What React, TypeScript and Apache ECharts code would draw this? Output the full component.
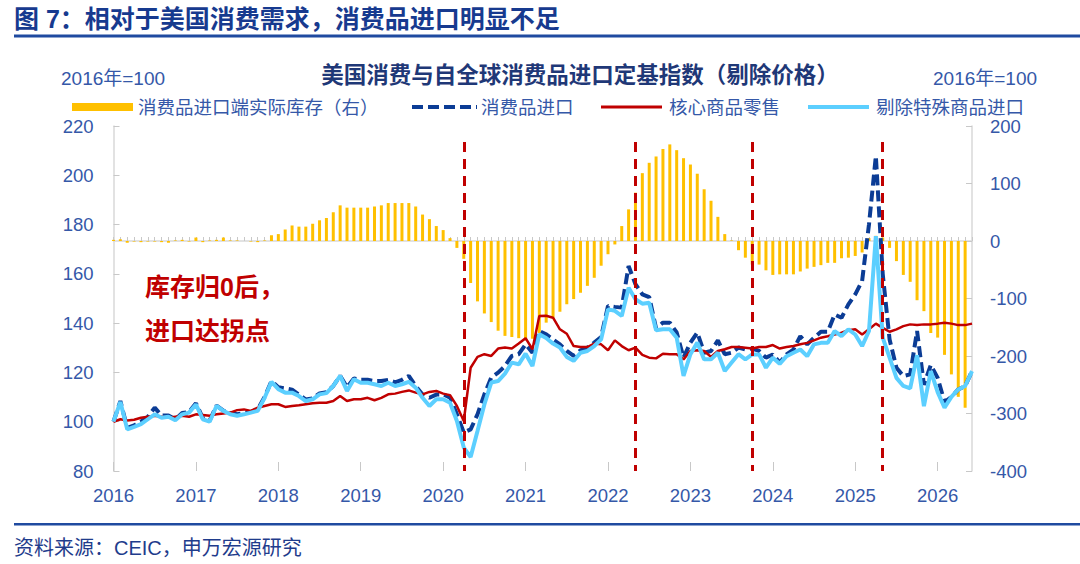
import React, { useEffect, useRef } from "react";
import * as echarts from "echarts";

// Monthly categories Jan 2016 .. Jun 2026
const months: string[] = [];
for (let y = 2016; y <= 2026; y++) {
  for (let m = 1; m <= 12; m++) {
    if (months.length < 126) months.push(`${y}-${m < 10 ? "0" + m : m}`);
  }
}

// 消费品进口端实际库存（右）
const inventoryBars: (number | null)[] = [
  2, 3, -3, -1, -2, -1, -1, -2, -3, 1,
  2, -1, 6, -2, 1, 2, 6, 1, 1, 0,
  -1, -2, 1, 10, 12, 20, 27, 25, 25, 30,
  36, 40, 50, 62, 58, 58, 58, 58, 60, 62,
  66, 66, 66, 66, 60, 46, 38, 26, 19, 5,
  -12, -31, -73, -105, -126, -141, -156, -165, -167, -169,
  -170, -170, -160, -142, -133, -123, -110, -101, -90, -78,
  -64, -43, -23, -6, 26, 55, 84, 118, 136, 147,
  160, 168, 158, 144, 133, 117, 90, 70, 42, 12,
  1, -16, -29, -41, -41, -51, -59, -58, -58, -58,
  -53, -48, -45, -42, -38, -38, -30, -29, -26, -20,
  5, 9, 6, -12, -35, -59, -71, -103, -122, -160,
  -168, -198, -232, -271, -290, null,
];

// 消费品进口
const importIdx: number[] = [
  100, 108.4, 97.5, 98.5, 100, 102, 105.7, 102.5, 102.5, 101,
  103.5, 104, 107.5, 101.5, 100.5, 106.5, 104.5, 103.5, 103, 103.5,
  104, 105, 110, 116.5, 114, 113.5, 113, 111, 109, 109.5,
  111.5, 112, 114.5, 118.6, 114, 117.5, 117, 117, 116.5, 116.5,
  117, 116, 117, 118.6, 114.5, 111, 109.7, 111, 111.1, 109.8,
  103, 95.6, 96.9, 103, 111.1, 117.9, 119.9, 122.6, 126.7, 127.4,
  131.4, 128, 136.8, 135.5, 133.4, 131.4, 128.7, 126.7, 129, 130.1,
  132.1, 134.4, 147, 146.6, 146.3, 163.2, 155.8, 151.7, 150.6, 137.9,
  140.2, 140.2, 136.2, 126, 132.1, 136.2, 128, 128.7, 133, 127.4,
  128, 130.1, 129.3, 129.7, 128.7, 126, 127.3, 124, 127.3, 129.3,
  134.7, 131.4, 134.1, 136.5, 136.5, 143.5, 142.2, 147.6, 151.7, 157.1,
  180, 207.8, 160, 133.4, 121.9, 118.5, 119.2, 136.8, 115, 123,
  117.8, 108, 110, 113.1, 114.5, 120.5,
];

// 核心商品零售
const coreRetail: number[] = [
  100, 101, 100.5, 100.8, 101.6, 102, 102.4, 102, 101.6, 102,
  102.4, 102, 103, 102.7, 102.4, 103, 103.3, 103.7, 104.7, 105,
  104.4, 105.7, 106.4, 107.1, 107.1, 106, 106.4, 106.7, 107.1, 107.5,
  107.7, 107.7, 108.4, 110.4, 108.4, 109.1, 109.1, 109.7, 108.7, 109.7,
  111.1, 111.4, 112.1, 112.7, 111.8, 111.1, 112.1, 112.5, 111.4, 110.8,
  106.4, 100.3, 121.9, 126.3, 127.4, 126.7, 129.7, 130.1, 129.7, 131.7,
  133.9, 129.4, 142.9, 143, 142.2, 137.5, 135.7, 130.7, 130.3, 130.3,
  131.7, 131.4, 129, 133, 130.7, 129, 130.1, 127.1, 126, 125.7,
  127.6, 127.4, 127.4, 125.3, 128.7, 129, 128.7, 126.3, 128.7, 129.4,
  130.3, 130.3, 130, 129.7, 130.3, 130.3, 131.1, 129.7, 130.3, 130.7,
  131.4, 132, 133, 134.1, 134.7, 135.4, 136.1, 137.1, 137.5, 135.4,
  137.5, 139.8, 138.1, 136.5, 137.5, 138.8, 139.5, 139.2, 139.5, 139.5,
  139.8, 140.2, 139.8, 139.2, 139.2, 139.8,
];

// 剔除特殊商品进口
const exSpecialImport: number[] = [
  100, 108, 96.9, 97.9, 99, 101, 103, 101.6, 102, 100.6,
  103, 103.7, 107, 101, 100, 106.4, 104.4, 103, 102.4, 103,
  103.7, 104.4, 109.7, 116.2, 113.2, 111.8, 111.8, 110.4, 108.4, 109.1,
  111.1, 111.6, 114.5, 118.6, 112.5, 117.2, 115.8, 115.8, 115.2, 114.5,
  115.8, 114.5, 115.2, 116.2, 113.8, 109.7, 106.4, 109.1, 109.1, 107.7,
  100.3, 89.5, 85.7, 96.2, 107, 115.9, 116.5, 119.5, 124, 123.3,
  127.6, 122.6, 135.5, 134, 131.7, 130.1, 126.3, 124.7, 128, 128.7,
  130.7, 133.4, 145.6, 145, 142.9, 154.4, 149.7, 147.9, 148.3, 137.1,
  137.5, 137.5, 134.1, 118.6, 127.4, 132.1, 125.3, 125.3, 128, 120.6,
  124, 127.4, 125.3, 127.3, 127.3, 121.9, 126, 123.5, 126.6, 128,
  129.3, 126.6, 131.4, 132, 132, 136.8, 134.7, 137.5, 135.4, 130.7,
  136.8, 175.3, 134.1, 126, 117.8, 114.5, 113.5, 127, 106.3, 120.5,
  112, 105.7, 110.1, 113.1, 114.5, 120.5,
];

// Month indexes of the vertical red dashed markers
const markerMonthIdx: number[] = [51, 76, 93, 112];

const leftTicks = { min: 80, max: 220, interval: 20 };
const rightTicks = { min: -400, max: 200, interval: 100 };

const FONT = "'Liberation Sans', 'Noto Sans CJK SC', sans-serif";
const LABEL_COLOR = "#3558A8";
const TITLE_BLUE = "#173A8F";
const LINE_BLUE = "#1F4AA0";

function txt(
  x: number,
  y: number,
  text: string,
  fontSize: number,
  fill: string,
  opts: { bold?: boolean; align?: string } = {}
) {
  const align = opts.align || "left";
  return {
    type: "text",
    x,
    y,
    silent: true,
    style: {
      text,
      fill,
      fontSize,
      fontWeight: opts.bold ? "bold" : "normal",
      fontFamily: FONT,
      align,
      verticalAlign: "middle",
      textAlign: align,
      textVerticalAlign: "middle",
    },
  };
}

export default function App() {
  const ref = useRef<HTMLDivElement>(null);

  useEffect(() => {
    if (!ref.current) return;
    const chart = echarts.init(ref.current, null, { renderer: "svg" });

    const legendY = 107;
    const legendFont = 18.5;
    const option: any = {
      animation: false,
      backgroundColor: "#ffffff",
      grid: { left: 113.5, right: 108, top: 126, height: 345, containLabel: false },
      xAxis: [
        {
          type: "category",
          data: months,
          boundaryGap: false,
          axisLine: { show: true, lineStyle: { color: "#D9D9D9", width: 1.5 } },
          axisTick: {
            show: true,
            inside: true,
            interval: 0,
            length: 4,
            lineStyle: { color: "#C8C8C8", width: 1 },
          },
          axisLabel: {
            interval: (i: number) => i % 12 === 0,
            formatter: (v: string) => v.slice(0, 4),
            color: LABEL_COLOR,
            fontSize: 18.5,
            fontFamily: FONT,
            margin: 15,
          },
          splitLine: { show: false },
        },
        {
          type: "category",
          data: months,
          boundaryGap: false,
          position: "bottom",
          axisLine: { show: false },
          axisTick: {
            show: true,
            inside: true,
            interval: (i: number) => i % 12 === 0,
            length: 9,
            lineStyle: { color: "#C8C8C8", width: 1 },
          },
          axisLabel: { show: false },
          splitLine: { show: false },
        },
      ],
      yAxis: [
        {
          type: "value",
          position: "left",
          min: leftTicks.min,
          max: leftTicks.max,
          interval: leftTicks.interval,
          axisLine: { show: true, lineStyle: { color: "#D9D9D9", width: 1.5 } },
          axisTick: { show: true, inside: true, length: 6, lineStyle: { color: "#C8C8C8" } },
          axisLabel: { color: LABEL_COLOR, fontSize: 18.5, fontFamily: FONT, margin: 20 },
          splitLine: { show: false },
        },
        {
          type: "value",
          position: "right",
          min: rightTicks.min,
          max: rightTicks.max,
          interval: rightTicks.interval,
          axisLine: { show: true, lineStyle: { color: "#D9D9D9", width: 1.5 } },
          axisTick: { show: true, inside: true, length: 6, lineStyle: { color: "#C8C8C8" } },
          axisLabel: { color: LABEL_COLOR, fontSize: 18.5, fontFamily: FONT, margin: 18 },
          splitLine: { show: false },
        },
      ],
      series: [
        {
          type: "bar",
          name: "消费品进口端实际库存（右）",
          data: inventoryBars,
          yAxisIndex: 1,
          barWidth: 3,
          itemStyle: { color: "#FFC000" },
          markLine: {
            silent: true,
            symbol: ["none", "none"],
            label: { show: false },
            lineStyle: { color: "#C00000", width: 3, type: [10, 7] },
            data: markerMonthIdx.map((m) => [
              { coord: [months[m], 172] },
              { coord: [months[m], -400] },
            ]),
          },
        },
        {
          type: "line",
          name: "消费品进口",
          data: importIdx,
          yAxisIndex: 0,
          symbol: "none",
          lineStyle: { color: "#0B3C95", width: 4, type: [11, 5] },
        },
        {
          type: "line",
          name: "核心商品零售",
          data: coreRetail,
          yAxisIndex: 0,
          symbol: "none",
          lineStyle: { color: "#C00000", width: 2.5 },
        },
        {
          type: "line",
          name: "剔除特殊商品进口",
          data: exSpecialImport,
          yAxisIndex: 0,
          symbol: "none",
          lineStyle: { color: "#5CCFFF", width: 4 },
        },
      ],
      graphic: [
        txt(14, 19, "图 7：相对于美国消费需求，消费品进口明显不足", 25, TITLE_BLUE, { bold: true }),
        { type: "rect", silent: true, shape: { x: 14, y: 34.5, width: 1066, height: 3 }, style: { fill: LINE_BLUE } },
        txt(61, 78, "2016年=100", 19, LABEL_COLOR),
        txt(933, 78, "2016年=100", 19, LABEL_COLOR),
        txt(580, 75, "美国消费与自全球消费品进口定基指数（剔除价格）", 22.5, "#1F3877", { bold: true, align: "center" }),
        // legend
        { type: "rect", silent: true, shape: { x: 72, y: legendY - 4, width: 61, height: 8 }, style: { fill: "#FFC000" } },
        txt(138, legendY, "消费品进口端实际库存（右）", legendFont, LABEL_COLOR),
        {
          type: "line",
          silent: true,
          shape: { x1: 412, y1: legendY, x2: 477, y2: legendY },
          style: { stroke: "#0B3C95", lineWidth: 4, lineDash: [11, 5] },
        },
        txt(481, legendY, "消费品进口", legendFont, LABEL_COLOR),
        {
          type: "line",
          silent: true,
          shape: { x1: 601, y1: legendY, x2: 662, y2: legendY },
          style: { stroke: "#C00000", lineWidth: 3 },
        },
        txt(669, legendY, "核心商品零售", legendFont, LABEL_COLOR),
        {
          type: "line",
          silent: true,
          shape: { x1: 808, y1: legendY, x2: 869, y2: legendY },
          style: { stroke: "#5CCFFF", lineWidth: 4 },
        },
        txt(876, legendY, "剔除特殊商品进口", legendFont, LABEL_COLOR),
        // annotation
        txt(145, 287, "库存归0后，", 25, "#C00000", { bold: true }),
        txt(145, 331, "进口达拐点", 25, "#C00000", { bold: true }),
        // footer
        { type: "rect", silent: true, shape: { x: 14, y: 523, width: 1066, height: 2.5 }, style: { fill: LINE_BLUE } },
        txt(14, 548, "资料来源：CEIC，申万宏源研究", 20, "#1F3C8C"),
      ],
    };

    chart.setOption(option);
    return () => chart.dispose();
  }, []);

  return (
    <div
      ref={ref}
      style={{ position: "absolute", left: 0, top: 0, width: 1080, height: 564, background: "#fff" }}
    />
  );
}
